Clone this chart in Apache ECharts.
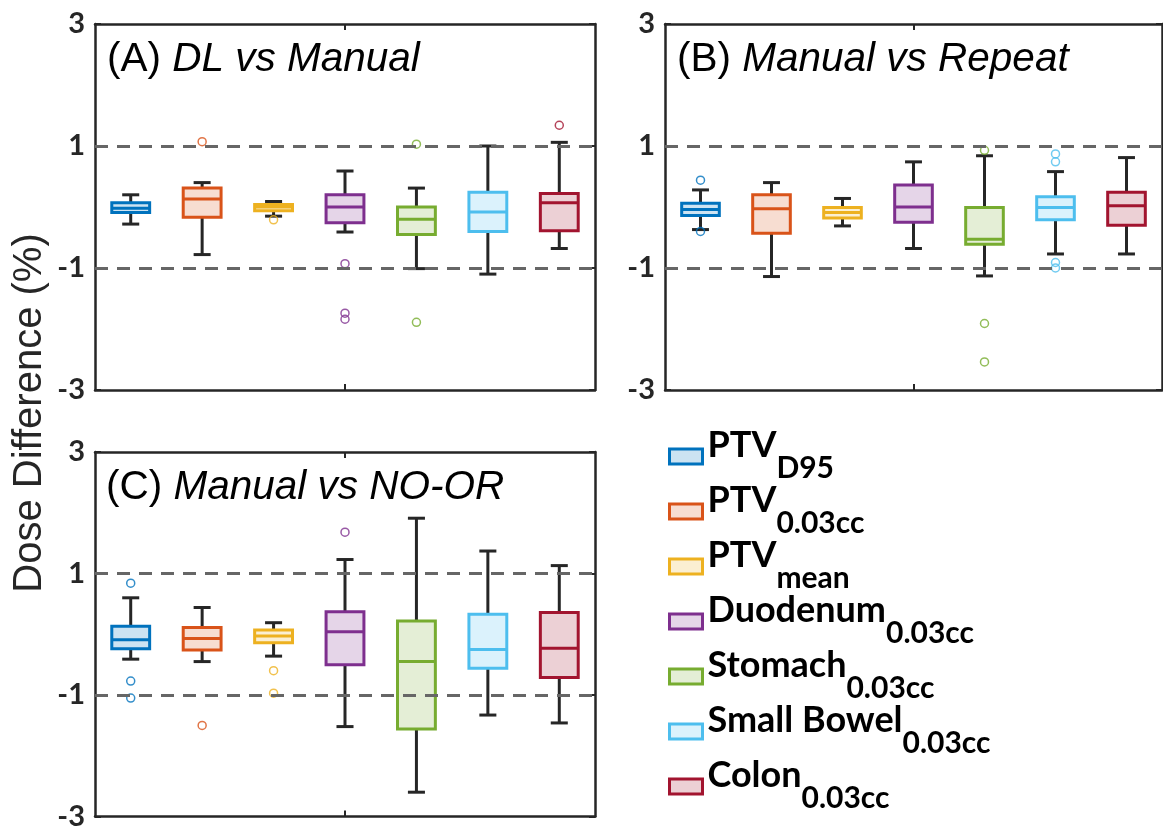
<!DOCTYPE html>
<html><head><meta charset="utf-8">
<script src="https://cdn.jsdelivr.net/npm/echarts@6/dist/echarts.min.js"></script>
<style>html,body{margin:0;padding:0;background:#fff}#c{width:1163px;height:831px}</style>
</head><body><div id="c"></div>
<script>
// ---- data ----
const organs = ['PTV D95', 'PTV 0.03cc', 'PTV mean', 'Duodenum 0.03cc', 'Stomach 0.03cc', 'Small Bowel 0.03cc', 'Colon 0.03cc'];
const legendMain = ['PTV', 'PTV', 'PTV', 'Duodenum', 'Stomach', 'Small Bowel', 'Colon'];
const legendSub = ['D95', '0.03cc', 'mean', '0.03cc', '0.03cc', '0.03cc', '0.03cc'];
const yTicks = [-3, -1, 1, 3];
const refLines = [1, -1];
const panelTitles = [['(A) ', 'DL vs Manual'], ['(B) ', 'Manual vs Repeat'], ['(C) ', 'Manual vs NO-OR']];
const yAxisName = 'Dose Difference (%)';

// [min, q1, median, q3, max]
const statsA = [
  [-0.28, -0.09, -0.02, 0.07, 0.20],
  [-0.78, -0.17, 0.13, 0.31, 0.40],
  [-0.15, -0.06, 0.00, 0.04, 0.09],
  [-0.41, -0.26, 0.00, 0.20, 0.59],
  [-1.01, -0.45, -0.20, 0.00, 0.31],
  [-1.10, -0.40, -0.08, 0.24, 1.00],
  [-0.68, -0.39, 0.07, 0.22, 1.06]
];
const outliersA = [[], [1.07], [-0.21], [-0.93, -1.74, -1.84], [1.03, -1.89], [], [1.34]];

const statsB = [
  [-0.37, -0.14, -0.04, 0.06, 0.28],
  [-1.14, -0.43, -0.03, 0.20, 0.40],
  [-0.31, -0.18, -0.09, -0.01, 0.14],
  [-0.68, -0.25, 0.00, 0.36, 0.74],
  [-1.13, -0.61, -0.53, -0.01, 0.84],
  [-0.77, -0.21, -0.01, 0.17, 0.58],
  [-0.77, -0.30, 0.02, 0.24, 0.81]
];
const outliersB = [[0.44, -0.40], [], [], [], [0.93, -1.91, -2.54], [0.87, 0.74, -0.91, -1.00], []];

const statsC = [
  [-0.41, -0.24, -0.09, 0.13, 0.60],
  [-0.45, -0.26, -0.07, 0.11, 0.44],
  [-0.36, -0.14, -0.03, 0.07, 0.19],
  [-1.52, -0.50, 0.04, 0.37, 1.23],
  [-2.60, -1.56, -0.45, 0.22, 1.91],
  [-1.33, -0.56, -0.25, 0.33, 1.37],
  [-1.46, -0.71, -0.23, 0.36, 1.13]
];
const outliersC = [[0.84, -0.77, -1.05], [-1.50], [-0.60, -0.97], [1.68], [], [], []];

// ---- style ----
const colors = ['#0072BD', '#D95319', '#EDB120', '#7E2F8E', '#77AC30', '#4DBEEE', '#A2142F'];
const fills = ['rgba(0,114,189,0.2)', 'rgba(217,83,25,0.2)', 'rgba(237,177,32,0.2)', 'rgba(126,47,142,0.2)', 'rgba(119,172,48,0.2)', 'rgba(77,190,238,0.2)', 'rgba(162,20,47,0.2)'];
const frame = '#262626';
const grids = [
  {left: 95, top: 24, width: 500, height: 366},
  {left: 665, top: 24, width: 497, height: 366},
  {left: 95, top: 452, width: 500, height: 365}
];
const titlePos = [[107, 39], [677, 39], [106, 467]];
const mainFont = {family: 'Lato', size: 36};
const subFont = {family: 'Lato', size: 30};

const panels = [
  {stats: statsA, out: outliersA},
  {stats: statsB, out: outliersB},
  {stats: statsC, out: outliersC}
];

function renderBox(params, api) {
  const x = api.value(0);
  const ci = x;
  const pMin = api.coord([x, api.value(1)]);
  const pQ1 = api.coord([x, api.value(2)]);
  const pMed = api.coord([x, api.value(3)]);
  const pQ3 = api.coord([x, api.value(4)]);
  const pMax = api.coord([x, api.value(5)]);
  const band = api.size([1, 0])[0];
  const bw = band * 0.53, cw = bw * 0.45;
  const cx = pMin[0];
  const ws = {stroke: frame, lineWidth: 3};
  return {type: 'group', children: [
    {type: 'line', shape: {x1: cx, y1: pQ3[1], x2: cx, y2: pMax[1]}, style: ws},
    {type: 'line', shape: {x1: cx, y1: pQ1[1], x2: cx, y2: pMin[1]}, style: ws},
    {type: 'line', shape: {x1: cx - cw / 2, y1: pMax[1], x2: cx + cw / 2, y2: pMax[1]}, style: ws},
    {type: 'line', shape: {x1: cx - cw / 2, y1: pMin[1], x2: cx + cw / 2, y2: pMin[1]}, style: ws},
    {type: 'rect', shape: {x: cx - bw / 2, y: pQ3[1], width: bw, height: pQ1[1] - pQ3[1]},
      style: {fill: fills[ci], stroke: colors[ci], lineWidth: 3}},
    {type: 'line', shape: {x1: cx - bw / 2, y1: pMed[1], x2: cx + bw / 2, y2: pMed[1]},
      style: {stroke: colors[ci], lineWidth: 3}}
  ]};
}

const xAxes = [], yAxes = [], series = [];
const axLine = {show: true, onZero: false, lineStyle: {color: frame, width: 2.5}};
grids.forEach((g, pi) => {
  ['bottom', 'top'].forEach(pos => xAxes.push({
    type: 'category', gridIndex: pi, position: pos, data: organs,
    axisLine: axLine, axisLabel: {show: false}, splitLine: {show: false},
    axisTick: {show: true, inside: true, length: 6, alignWithLabel: true,
      interval: (i) => i === 3, lineStyle: {color: frame, width: 2}}
  }));
  ['left', 'right'].forEach(pos => yAxes.push({
    type: 'value', gridIndex: pi, position: pos, min: -3, max: 3, interval: 1,
    axisLine: axLine, splitLine: {show: false},
    axisTick: {show: true, inside: true, length: 6, customValues: yTicks, lineStyle: {color: frame, width: 2}},
    axisLabel: {show: pos === 'left', customValues: yTicks, margin: 10, color: frame,
      fontFamily: 'Lato', fontWeight: 'bold', fontSize: 29}
  }));
});

panels.forEach((p, pi) => {
  organs.forEach((name, ci) => {
    series.push({
      type: 'custom', name: name, xAxisIndex: pi * 2, yAxisIndex: pi * 2,
      itemStyle: {color: fills[ci], borderColor: colors[ci], borderWidth: 3},
      encode: {x: 0, y: [1, 2, 3, 4, 5]},
      data: [[ci].concat(p.stats[ci])],
      renderItem: renderBox, z: 3, silent: true
    });
  });
  const outData = [];
  p.out.forEach((vals, ci) => vals.forEach(v => outData.push({
    value: [ci, v], itemStyle: {borderColor: colors[ci]}
  })));
  series.push({
    type: 'scatter', name: 'outliers' + pi, xAxisIndex: pi * 2, yAxisIndex: pi * 2,
    data: outData, symbol: 'circle', symbolSize: 8, silent: true, z: 4,
    itemStyle: {color: 'rgba(255,255,255,0)', borderWidth: 1.5},
    markLine: {silent: true, symbol: 'none', label: {show: false}, z: 5,
      lineStyle: {type: [13, 9], color: '#666', width: 3},
      data: refLines.map(v => ({yAxis: v}))}
  });
});

const titles = panelTitles.map((t, i) => ({
  text: '{a|' + t[0] + '}{b|' + t[1] + '}',
  left: titlePos[i][0], top: titlePos[i][1], padding: 0,
  textStyle: {fontWeight: 'normal', rich: {
    a: {fontFamily: '"Liberation Sans", Arial', fontSize: 40.5, fontWeight: 'normal', color: '#000'},
    b: {fontFamily: '"Liberation Sans", Arial', fontSize: 40.5, fontWeight: 'normal', fontStyle: 'italic', color: '#000'}
  }}
}));

// legend rich text: main name on line 1, subscript on line 2 shifted by the main text width
const ctx = document.createElement('canvas').getContext('2d');
ctx.font = 'bold ' + mainFont.size + 'px ' + mainFont.family;
const legendRich = {
  m: {fontFamily: mainFont.family, fontWeight: 'bold', fontSize: mainFont.size, lineHeight: 24, color: '#000'},
  s: {fontFamily: subFont.family, fontWeight: 'bold', fontSize: subFont.size, lineHeight: 23, color: '#000'}
};
legendMain.forEach((m, i) => {
  legendRich['w' + i] = {width: ctx.measureText(m).width, fontSize: 10, lineHeight: 23};
});

const option = {
  animation: false,
  backgroundColor: '#fff',
  title: titles,
  grid: grids,
  xAxis: xAxes,
  yAxis: yAxes,
  legend: {
    orient: 'vertical', left: 668, top: 427, padding: 0, itemGap: -1.5,
    itemWidth: 33, itemHeight: 15, icon: 'rect', selectedMode: false,
    data: organs.map((n, i) => ({name: n, itemStyle: {color: fills[i], borderColor: colors[i], borderWidth: 3}})),
    formatter: (name) => {
      const i = organs.indexOf(name);
      return '{m|' + legendMain[i] + '}\n{w' + i + '| }{s|' + legendSub[i] + '}';
    },
    textStyle: {rich: legendRich}
  },
  graphic: [{
    type: 'text', x: 30, y: 413, rotation: Math.PI / 2,
    style: {text: yAxisName, font: '40px "Liberation Sans", Arial', fill: frame, align: 'center', verticalAlign: 'middle'}
  }],
  series: series
};
const chart = echarts.init(document.getElementById('c'));
chart.setOption(option);
</script></body></html>
